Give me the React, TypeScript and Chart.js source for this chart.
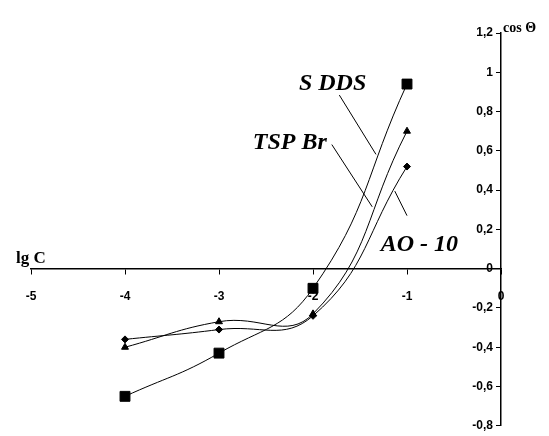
import React, { useEffect, useRef } from "react";
import { Chart, registerables } from "chart.js";

Chart.register(...registerables);

// lg C values
const xValues = [-4, -3, -2, -1];
// cos Θ values
const sddsValues = [-0.65, -0.43, -0.1, 0.94];
const tspBrValues = [-0.4, -0.27, -0.23, 0.7];
const ao10Values = [-0.36, -0.31, -0.24, 0.52];

const xTicks = [-5, -4, -3, -2, -1, 0];
const yTicks = [-0.8, -0.6, -0.4, -0.2, 0, 0.2, 0.4, 0.6, 0.8, 1, 1.2];
const yTickLabels = ["-0,8", "-0,6", "-0,4", "-0,2", "0", "0,2", "0,4", "0,6", "0,8", "1", "1,2"];

const seriesNames = ["S DDS", "TSP Br", "AO - 10"];

// series label annotations, in data units: text anchor, leader line start/end
const labelAnchors = [
  { tx: -2.15, ty: 0.91, lx1: -1.72, ly1: 0.884, lx2: -1.33, ly2: 0.582 },
  { tx: -2.64, ty: 0.607, lx1: -1.8, ly1: 0.632, lx2: -1.37, ly2: 0.315 },
  { tx: -1.28, ty: 0.088, lx1: -1.13, ly1: 0.395, lx2: -1.0, ly2: 0.27 },
];

const toPoints = (vals: number[]) => vals.map((v, i) => ({ x: xValues[i], y: v }));

export default function App() {
  const ref = useRef<HTMLCanvasElement | null>(null);

  useEffect(() => {
    if (!ref.current) return;

    const annotPlugin = {
      id: "annot",
      afterDraw(chart: any) {
        const ctx = chart.ctx;
        const xs = chart.scales.x;
        const ys = chart.scales.y;
        const axisX = xs.getPixelForValue(0);
        ctx.save();
        ctx.fillStyle = "#000";
        ctx.strokeStyle = "#000";
        ctx.lineWidth = 1;
        // y tick labels (left of the y axis)
        ctx.font = "bold 12px 'Liberation Sans', Arial, sans-serif";
        ctx.textAlign = "right";
        ctx.textBaseline = "middle";
        yTicks.forEach((v, i) => {
          ctx.fillText(yTickLabels[i], axisX - 8, ys.getPixelForValue(v));
        });
        // series labels with leader lines
        ctx.textBaseline = "alphabetic";
        ctx.textAlign = "left";
        ctx.font = "italic bold 24px 'Liberation Serif', serif";
        labelAnchors.forEach((a, i) => {
          ctx.fillText(seriesNames[i], xs.getPixelForValue(a.tx), ys.getPixelForValue(a.ty));
          ctx.beginPath();
          ctx.moveTo(xs.getPixelForValue(a.lx1), ys.getPixelForValue(a.ly1));
          ctx.lineTo(xs.getPixelForValue(a.lx2), ys.getPixelForValue(a.ly2));
          ctx.stroke();
        });
        // axis titles
        ctx.font = "bold 17px 'Liberation Serif', serif";
        ctx.fillText("lg C", xs.left - 15, ys.getPixelForValue(0) - 6);
        ctx.font = "bold 14px 'Liberation Serif', serif";
        ctx.fillText("cos Θ", axisX + 2, ys.top - 1);
        ctx.restore();
      },
    };

    const common = {
      borderColor: "#000",
      backgroundColor: "#000",
      pointBackgroundColor: "#000",
      pointBorderColor: "#000",
      borderWidth: 1,
      tension: 0.45,
      fill: false,
    };

    const chart = new Chart(ref.current, {
      type: "line",
      data: {
        datasets: [
          { ...common, label: seriesNames[0], data: toPoints(sddsValues), pointStyle: "rect", pointRadius: 7 },
          { ...common, label: seriesNames[1], data: toPoints(tspBrValues), pointStyle: "triangle", pointRadius: 4 },
          { ...common, label: seriesNames[2], data: toPoints(ao10Values), pointStyle: "rectRot", pointRadius: 3.5 },
        ],
      },
      options: {
        animation: false,
        responsive: false,
        events: [],
        layout: { padding: { left: 31, right: 48, top: 33, bottom: 6 } },
        plugins: { legend: { display: false }, tooltip: { enabled: false } },
        scales: {
          x: {
            type: "linear",
            min: -5,
            max: 0,
            position: { y: 0 },
            afterFit: (s: any) => {
              s.height = 0;
            },
            afterBuildTicks: (s: any) => {
              s.ticks = xTicks.map((v) => ({ value: v }));
            },
            grid: { drawOnChartArea: false, drawTicks: true, tickLength: 5, color: "#000", lineWidth: 1 },
            border: { display: true, color: "#000", width: 1.5 },
            ticks: {
              autoSkip: false,
              maxRotation: 0,
              padding: 16,
              color: "#000",
              font: { family: "'Liberation Sans', Arial, sans-serif", size: 12, weight: "bold" },
              callback: (v: any) => String(v),
            },
          },
          y: {
            type: "linear",
            min: -0.8,
            max: 1.2,
            position: { x: 0 },
            afterFit: (s: any) => {
              s.width = 0;
            },
            afterBuildTicks: (s: any) => {
              s.ticks = yTicks.map((v) => ({ value: v }));
            },
            grid: { drawOnChartArea: false, drawTicks: true, tickLength: 4, color: "#000", lineWidth: 1 },
            border: { display: true, color: "#000", width: 1.5 },
            ticks: {
              autoSkip: false,
              color: "rgba(0,0,0,0)",
              font: { family: "'Liberation Sans', Arial, sans-serif", size: 12, weight: "bold" },
              callback: () => "",
            },
          },
        },
      },
      plugins: [annotPlugin],
    } as any);

    return () => chart.destroy();
  }, []);

  return (
    <div style={{ position: "fixed", left: 0, top: 0, width: 549, height: 436, background: "#fff" }}>
      <canvas ref={ref} width={549} height={436} style={{ display: "block" }} />
    </div>
  );
}
